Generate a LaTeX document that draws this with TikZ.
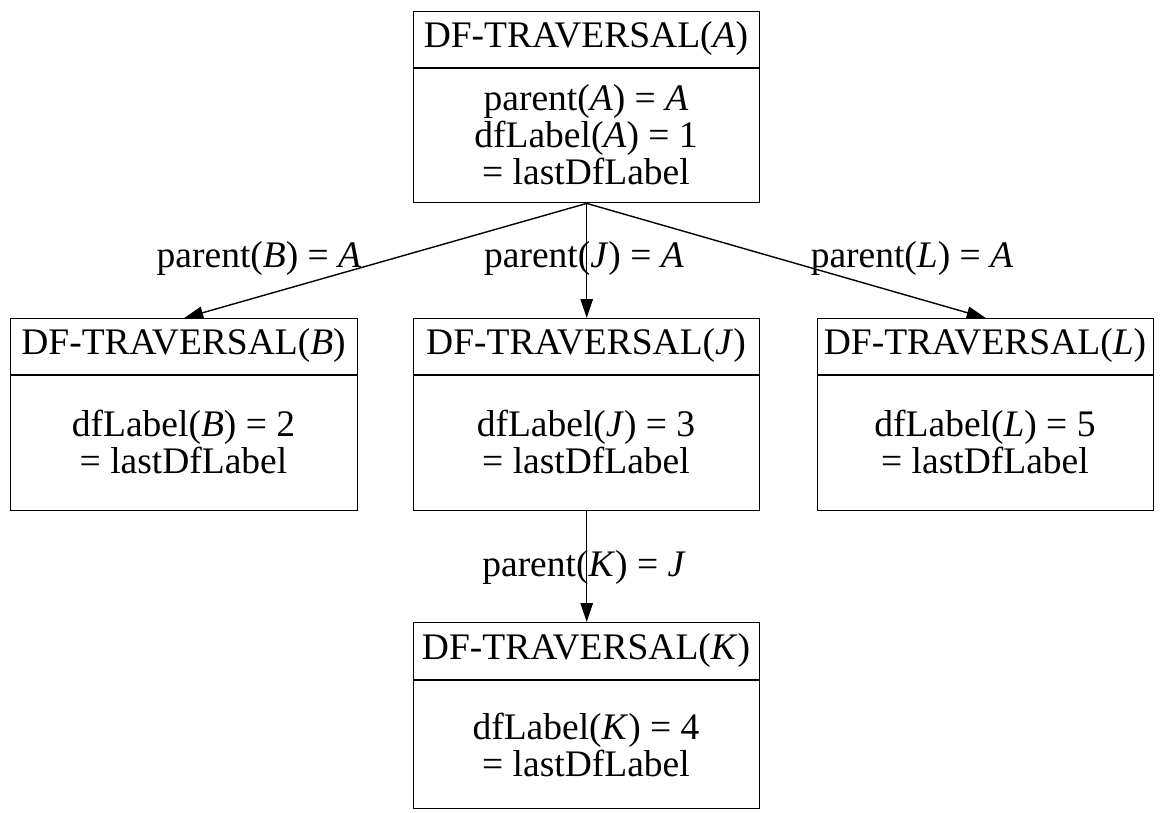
\documentclass[tikz,border=0pt]{standalone}
\usepackage{fontspec}
\setmainfont{Liberation Serif}
\usetikzlibrary{arrows.meta}
\begin{document}
\begin{tikzpicture}[x=1pt,y=-1pt,
  txt/.style={font=\fontsize{37.5}{37}\selectfont, inner sep=0pt, align=center},
  frame/.style={draw, line width=1.4pt, inner sep=0pt, anchor=north west, minimum width=#1},
  divider/.style={line width=1.4pt},
  edge/.style={line width=1.4pt, -{Triangle[length=19pt,width=12.5pt]}},
  lbl/.style={txt}]
\useasboundingbox (0,0) rectangle (1161,812);

% boxes
\node[frame=346pt, minimum height=191pt] (A) at (413,11) {};
\node[frame=347pt, minimum height=192pt] (B) at (10,318) {};
\node[frame=346pt, minimum height=192pt] (J) at (413,318) {};
\node[frame=336pt, minimum height=192pt] (L) at (817,318) {};
\node[frame=346pt, minimum height=186pt] (K) at (413,622) {};

% dividers between header and body
\draw[divider] (A.north west) ++(0,57) -- ++(346,0);
\draw[divider] (B.north west) ++(0,57) -- ++(347,0);
\draw[divider] (J.north west) ++(0,57) -- ++(346,0);
\draw[divider] (L.north west) ++(0,57) -- ++(336,0);
\draw[divider] (K.north west) ++(0,58) -- ++(346,0);

% headers
\node[txt] (At) at (586,38) {DF-TRAVERSAL(\textit{A})};
\node[txt] (Bt) at (183.5,345) {DF-TRAVERSAL(\textit{B})};
\node[txt] (Jt) at (586,345) {DF-TRAVERSAL(\textit{J})};
\node[txt] (Lt) at (985,345) {DF-TRAVERSAL(\textit{L})};
\node[txt] (Kt) at (586,650) {DF-TRAVERSAL(\textit{K})};

% bodies
\node[txt] (Ab) at (586,135) {parent(\textit{A}) = \textit{A}\\dfLabel(\textit{A}) = 1\\= lastDfLabel};
\node[txt] (Bb) at (183.5,442) {dfLabel(\textit{B}) = 2\\= lastDfLabel};
\node[txt] (Jb) at (586,442) {dfLabel(\textit{J}) = 3\\= lastDfLabel};
\node[txt] (Lb) at (985,442) {dfLabel(\textit{L}) = 5\\= lastDfLabel};
\node[txt] (Kb) at (586,745) {dfLabel(\textit{K}) = 4\\= lastDfLabel};

% tree edges
\draw[edge] (A.south) -- (B.north);
\draw[edge] (A.south) -- (J.north);
\draw[edge] (A.south) -- (L.north);
\draw[edge] (J.south) -- (K.north);

% edge labels
\node[lbl] (eB) at (259,258) {parent(\textit{B}) = \textit{A}};
\node[lbl] (eJ) at (584,258) {parent(\textit{J}) = \textit{A}};
\node[lbl] (eL) at (912,258) {parent(\textit{L}) = \textit{A}};
\node[lbl] (eK) at (584,567) {parent(\textit{K}) = \textit{J}};
\end{tikzpicture}
\end{document}
